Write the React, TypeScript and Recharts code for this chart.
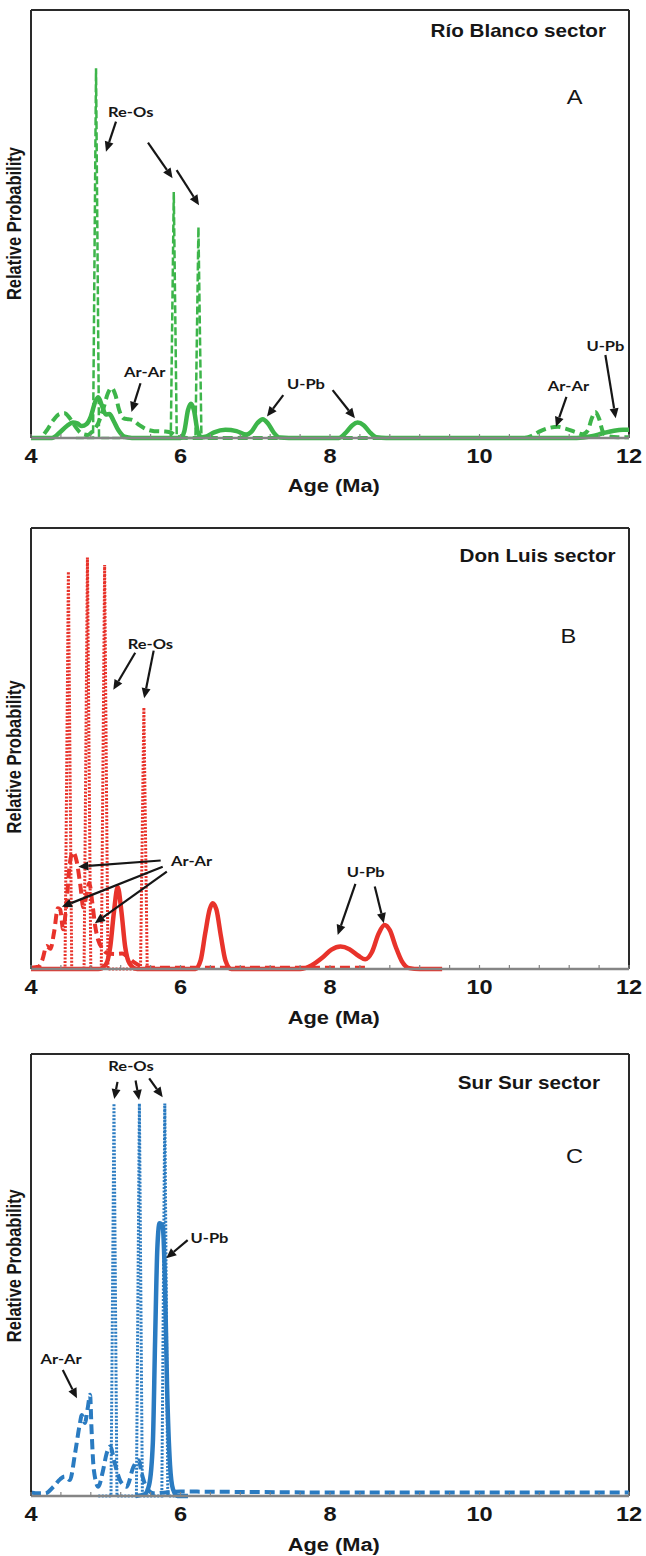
import React from 'react';
import { LineChart, Line, XAxis, YAxis, ReferenceLine, ReferenceDot } from 'recharts';

// Age probability curves for three sectors (x: Ma, y: % of panel height).
const ARIAL = '"Liberation Sans", Arial, sans-serif';
const CALLOUT = 'Lato, "Open Sans", sans-serif';
const INK = '#161616';
const FRAME = '#2a2a2a';
const AXIS = '#858585';
const STRETCH = 1.18;

const GREEN = '#3db54a';
const RED = '#e8332b';
const BLUE = '#2a7bc1';

const AGE_TICKS = [4, 4.4, 4.8, 5.2, 5.6, 6, 6.4, 6.8, 7.2, 7.6, 8, 8.4, 8.8, 9.2, 9.6, 10, 10.4, 10.8, 11.2, 11.6, 12];
const AGE_LABELS = [4, 6, 8, 10, 12];

type Pt = [number, number];

// --- Río Blanco
const RB_REOS: Pt[] = [
  [4.6, 0], [4.83, 0], [4.87, 86.4], [4.91, 0], [5.87, 0], [5.91, 57.5], [5.95, 0],
  [6.2, 0], [6.24, 49.3], [6.28, 0], [6.5, 0],
];
const RB_ARAR: Pt[] = [
  [4.0, 0], [4.12, 0], [4.2, 1.5], [4.3, 4.2], [4.38, 5.6], [4.45, 5.8], [4.52, 4.6], [4.6, 2.5],
  [4.68, 1.0], [4.76, 0.7], [4.82, 1.5], [4.9, 3.5], [4.97, 7], [5.03, 10.5], [5.08, 11.7],
  [5.13, 10], [5.18, 6.5], [5.24, 4.6], [5.3, 4.4], [5.36, 4.2], [5.45, 3.0], [5.55, 2.0],
  [5.65, 1.6], [5.8, 1.5], [5.88, 1.2], [5.95, 0.3], [6.1, 0], [8, 0], [10.6, 0], [10.7, 0.5],
  [10.8, 1.5], [10.92, 2.3], [11.05, 2.6], [11.15, 2.2], [11.28, 1.4], [11.38, 0.9], [11.45, 1.8],
  [11.5, 4.5], [11.55, 6.1], [11.6, 4.5], [11.65, 1.5], [11.72, 0.4], [11.85, 0.2], [12, 0.2],
];
const RB_UPB: Pt[] = [
  [4.0, 0], [4.28, 0], [4.38, 1.2], [4.48, 2.8], [4.56, 3.6], [4.62, 3.4], [4.68, 2.8], [4.74, 3.2],
  [4.8, 5.0], [4.86, 8.5], [4.9, 9.5], [4.95, 7.5], [5.0, 5.5], [5.05, 5.6], [5.1, 4.2], [5.17, 1.8],
  [5.25, 0.3], [5.35, 0], [6.0, 0], [6.05, 1.5], [6.1, 6.5], [6.14, 8.0], [6.18, 6.5], [6.23, 1.5],
  [6.28, 0.2], [6.35, 0.4], [6.45, 1.3], [6.6, 1.9], [6.75, 1.6], [6.88, 0.8], [6.95, 1.5],
  [7.03, 3.5], [7.1, 4.4], [7.17, 3.4], [7.25, 1.2], [7.33, 0.1], [7.45, 0], [8.12, 0], [8.22, 1.4],
  [8.3, 3.0], [8.37, 3.6], [8.45, 3.0], [8.53, 1.4], [8.62, 0.2], [8.75, 0], [11.3, 0], [11.5, 0.4],
  [11.65, 1.1], [11.8, 1.7], [11.92, 1.9], [12, 1.9],
];

// --- Don Luis
const DL_REOS: Pt[] = [
  [4.3, 0], [4.455, 0], [4.5, 90.1], [4.545, 0], [4.71, 0], [4.755, 93.3], [4.8, 0],
  [4.94, 0], [4.985, 91.6], [5.03, 0], [5.465, 0], [5.51, 59.3], [5.555, 0], [5.7, 0],
];
const DL_ARAR: Pt[] = [
  [4.0, 0.3], [4.1, 0.5], [4.15, 2], [4.21, 5.2], [4.26, 4.6], [4.31, 8.5], [4.36, 13.8],
  [4.39, 13.5], [4.43, 9], [4.47, 14], [4.52, 24], [4.56, 26.5], [4.61, 24.5], [4.66, 19],
  [4.7, 14], [4.74, 16.5], [4.78, 19.5], [4.82, 15], [4.86, 9.6], [4.9, 6.5], [4.95, 4.8],
  [5.02, 3.6], [5.12, 3.4], [5.22, 3.5], [5.3, 2.6], [5.38, 1.5], [5.48, 0.6], [5.6, 0.3], [8.5, 0.3],
];
const DL_UPB: Pt[] = [
  [4.0, 0], [4.9, 0], [5.0, 1], [5.06, 5], [5.11, 13], [5.16, 18.6], [5.21, 13], [5.26, 5],
  [5.32, 1.2], [5.42, 0], [6.2, 0], [6.27, 2], [6.33, 8], [6.39, 13.5], [6.43, 14.9], [6.48, 13.5],
  [6.54, 7.5], [6.6, 2], [6.68, 0], [7.6, 0], [7.75, 0.8], [7.9, 2.6], [8.02, 4.4], [8.14, 5.1],
  [8.26, 4.5], [8.38, 3.0], [8.47, 2.2], [8.56, 3.8], [8.65, 8], [8.73, 10], [8.8, 8.8], [8.88, 5],
  [8.96, 1.8], [9.06, 0.2], [9.2, 0], [9.5, 0],
];

// --- Sur Sur
const SS_REOS: Pt[] = [
  [4.9, 0], [5.07, 0], [5.11, 88.8], [5.15, 0], [5.41, 0], [5.45, 88.8], [5.49, 0],
  [5.75, 0], [5.79, 88.8], [5.83, 0], [6.0, 0],
];
const SS_ARAR: Pt[] = [
  [4.0, 0.8], [4.1, 0.6], [4.19, 0.6], [4.3, 2.1], [4.39, 3.8], [4.45, 4.4], [4.52, 3.6],
  [4.59, 9.7], [4.65, 16], [4.68, 18.3], [4.72, 16.5], [4.76, 20], [4.79, 22.9], [4.81, 15],
  [4.84, 6], [4.9, 2.1], [4.96, 5.5], [5.01, 9.5], [5.06, 11.2], [5.12, 7.4], [5.19, 3.6],
  [5.28, 2.1], [5.37, 6.6], [5.44, 8.1], [5.48, 5.2], [5.53, 2.5], [5.64, 0.6], [5.8, 0.8],
  [6.0, 1.0], [7, 0.9], [8, 0.8], [9, 0.8], [10, 0.8], [11, 0.8], [12, 0.8],
];
const SS_UPB: Pt[] = [
  [5.4, 0], [5.52, 0.4], [5.58, 2.5], [5.63, 12], [5.66, 35], [5.69, 56], [5.72, 61.7],
  [5.76, 61], [5.79, 50], [5.82, 25], [5.86, 7], [5.9, 1.5], [5.96, 0], [6.1, 0],
];

type Callout = { x: number; y: number; text: string };
type Arrow = { from: Pt; to: Pt };

const RB_CALLOUTS: Callout[] = [
  { x: 5.334, y: 76.2, text: 'Re-Os' },
  { x: 5.521, y: 15.5, text: 'Ar-Ar' },
  { x: 7.679, y: 12.8, text: 'U-Pb' },
  { x: 11.19, y: 12.2, text: 'Ar-Ar' },
  { x: 11.684, y: 21.7, text: 'U-Pb' },
];
const RB_ARROWS: Arrow[] = [
  { from: [5.137, 73.9], to: [5.003, 66.9] },
  { from: [5.565, 69.0], to: [5.894, 60.7] },
  { from: [5.948, 62.6], to: [6.248, 54.4] },
  { from: [5.465, 12.8], to: [5.344, 6.1] },
  { from: [7.375, 10.0], to: [7.157, 5.0] },
  { from: [8.035, 11.2], to: [8.334, 4.6] },
  { from: [11.163, 9.6], to: [11.023, 2.6] },
  { from: [11.684, 19.4], to: [11.822, 4.6] },
];

const DL_CALLOUTS: Callout[] = [
  { x: 5.597, y: 73.7, text: 'Re-Os' },
  { x: 6.148, y: 24.6, text: 'Ar-Ar' },
  { x: 8.478, y: 22.2, text: 'U-Pb' },
];
const DL_ARROWS: Arrow[] = [
  { from: [5.394, 71.7], to: [5.101, 63.3] },
  { from: [5.641, 72.2], to: [5.514, 61.4] },
  { from: [5.735, 24.6], to: [4.633, 23.2] },
  { from: [5.762, 23.2], to: [4.413, 14.1] },
  { from: [5.817, 22.1], to: [4.854, 10.4] },
  { from: [8.34, 19.3], to: [8.103, 7.7] },
  { from: [8.599, 18.7], to: [8.72, 10.4] },
];

const SS_CALLOUTS: Callout[] = [
  { x: 5.338, y: 97.5, text: 'Re-Os' },
  { x: 6.388, y: 58.5, text: 'U-Pb' },
  { x: 4.403, y: 31.2, text: 'Ar-Ar' },
];
const SS_ARROWS: Arrow[] = [
  { from: [5.157, 93.7], to: [5.114, 89.8] },
  { from: [5.399, 94.0], to: [5.446, 89.6] },
  { from: [5.581, 94.5], to: [5.762, 90.2] },
  { from: [6.096, 57.9], to: [5.809, 53.8] },
  { from: [4.425, 28.5], to: [4.615, 22.1] },
];

function StretchText({ x, y, size, weight = 'bold', family = ARIAL, anchor = 'middle', rotate = 0, children }: any) {
  const t = `translate(${x},${y}) scale(${STRETCH},1)${rotate ? ` rotate(${rotate})` : ''}`;
  return (
    <text transform={t} textAnchor={anchor} dominantBaseline="central" fontSize={size} fontWeight={weight} fontFamily={family} fill={INK}>
      {children}
    </text>
  );
}

function ArrowShape(props: any) {
  const { x1, y1, x2, y2 } = props;
  const a = Math.atan2(y2 - y1, x2 - x1);
  const len = 10;
  const half = 4.5;
  const bx = x2 - len * Math.cos(a);
  const by = y2 - len * Math.sin(a);
  const px = -Math.sin(a) * half;
  const py = Math.cos(a) * half;
  return (
    <g>
      <line x1={x1} y1={y1} x2={bx} y2={by} stroke={INK} strokeWidth={2.2} />
      <polygon points={`${x2},${y2} ${bx + px},${by + py} ${bx - px},${by - py}`} fill={INK} />
    </g>
  );
}

function AgeTick(props: any) {
  const { x, y, payload } = props;
  const v = payload.value;
  return (
    <g>
      <line x1={x} x2={x} y1={y} y2={y - 4} stroke={AXIS} strokeWidth={1.2} />
      {AGE_LABELS.includes(v) && (
        <StretchText x={x} y={y + 18} size={20}>
          {v}
        </StretchText>
      )}
    </g>
  );
}

const toRows = (pts: Pt[]) => pts.map(([x, y]) => ({ x, y }));

type PanelProps = {
  height: number;
  top: number;
  axisHeight: number;
  color: string;
  reOs: Pt[];
  arAr: Pt[];
  uPb: Pt[];
  reOsDash: string;
  reOsWidth: number;
  callouts: Callout[];
  arrows: Arrow[];
  title: string;
  titleAt: Pt;
  letter: string;
  letterAt: Pt;
  yLabelAt: number;
};

function Panel(p: PanelProps) {
  return (
    <LineChart width={646} height={p.height} margin={{ top: p.top, right: 17, bottom: 0, left: 0 }}>
      <XAxis
        dataKey="x"
        type="number"
        domain={[4, 12]}
        allowDataOverflow
        ticks={AGE_TICKS}
        interval={0}
        tickLine={false}
        tickSize={0}
        tickMargin={0}
        tick={<AgeTick />}
        height={p.axisHeight}
        axisLine={{ stroke: AXIS, strokeWidth: 2.5 }}
      />
      <YAxis type="number" domain={[0, 100]} width={31} tick={false} tickLine={false} axisLine={{ stroke: FRAME, strokeWidth: 2 }} />

      {/* top and right edges of the box */}
      <ReferenceLine y={100} stroke={FRAME} strokeWidth={2} ifOverflow="visible" />
      <ReferenceLine x={12} stroke={FRAME} strokeWidth={2} ifOverflow="visible" />

      <Line data={toRows(p.reOs)} dataKey="y" type="linear" stroke={p.color} strokeWidth={p.reOsWidth} strokeDasharray={p.reOsDash} dot={false} activeDot={false} isAnimationActive={false} />
      <Line data={toRows(p.arAr)} dataKey="y" type="monotone" stroke={p.color} strokeWidth={4} strokeDasharray="10 5" dot={false} activeDot={false} isAnimationActive={false} />
      <Line data={toRows(p.uPb)} dataKey="y" type="monotone" stroke={p.color} strokeWidth={4.5} dot={false} activeDot={false} isAnimationActive={false} />

      {p.arrows.map((a, i) => (
        <ReferenceLine key={`ar${i}`} segment={[{ x: a.from[0], y: a.from[1] }, { x: a.to[0], y: a.to[1] }]} shape={ArrowShape} ifOverflow="visible" />
      ))}
      {p.callouts.map((c, i) => (
        <ReferenceDot key={`co${i}`} x={c.x} y={c.y} r={0} ifOverflow="visible" shape={(s: any) => (
          <StretchText x={s.cx} y={s.cy} size={14} family={CALLOUT}>{c.text}</StretchText>
        )} />
      ))}
      <ReferenceDot x={p.titleAt[0]} y={p.titleAt[1]} r={0} ifOverflow="visible" shape={(s: any) => (
        <StretchText x={s.cx} y={s.cy} size={17.5} anchor="end">{p.title}</StretchText>
      )} />
      <ReferenceDot x={p.letterAt[0]} y={p.letterAt[1]} r={0} ifOverflow="visible" shape={(s: any) => (
        <StretchText x={s.cx} y={s.cy} size={20} weight="normal">{p.letter}</StretchText>
      )} />
      <ReferenceDot x={8.05} y={-11.1} r={0} ifOverflow="visible" shape={(s: any) => (
        <StretchText x={s.cx} y={s.cy} size={18.5}>Age (Ma)</StretchText>
      )} />
      <ReferenceDot x={3.786} y={p.yLabelAt} r={0} ifOverflow="visible" shape={(s: any) => (
        <StretchText x={s.cx} y={s.cy} size={16.5} rotate={-90}>Relative Probability</StretchText>
      )} />
    </LineChart>
  );
}

export default function App() {
  return (
    <div style={{ position: 'absolute', left: 0, top: 0, width: 646, height: 1556, background: '#fff' }}>
      <div style={{ position: 'absolute', left: 0, top: 0 }}>
        <Panel
          height={520} top={10} axisHeight={82} color={GREEN}
          reOs={RB_REOS} arAr={RB_ARAR} uPb={RB_UPB} reOsDash="8 3" reOsWidth={2.5}
          callouts={RB_CALLOUTS} arrows={RB_ARROWS}
          title="Río Blanco sector" titleAt={[11.692, 95.1]} letter="A" letterAt={[11.272, 79.7]} yLabelAt={50.1}
        />
      </div>
      <div style={{ position: 'absolute', left: 0, top: 520 }}>
        <Panel
          height={520} top={8} axisHeight={71} color={RED}
          reOs={DL_REOS} arAr={DL_ARAR} uPb={DL_UPB} reOsDash="2 1.5" reOsWidth={3}
          callouts={DL_CALLOUTS} arrows={DL_ARROWS}
          title="Don Luis sector" titleAt={[11.82, 93.7]} letter="B" letterAt={[11.188, 75.4]} yLabelAt={48.1}
        />
      </div>
      <div style={{ position: 'absolute', left: 0, top: 1040 }}>
        <Panel
          height={516} top={14} axisHeight={60} color={BLUE}
          reOs={SS_REOS} arAr={SS_ARAR} uPb={SS_UPB} reOsDash="2 1.5" reOsWidth={3}
          callouts={SS_CALLOUTS} arrows={SS_ARROWS}
          title="Sur Sur sector" titleAt={[11.612, 93.5]} letter="C" letterAt={[11.27, 76.8]} yLabelAt={52.1}
        />
      </div>
    </div>
  );
}
